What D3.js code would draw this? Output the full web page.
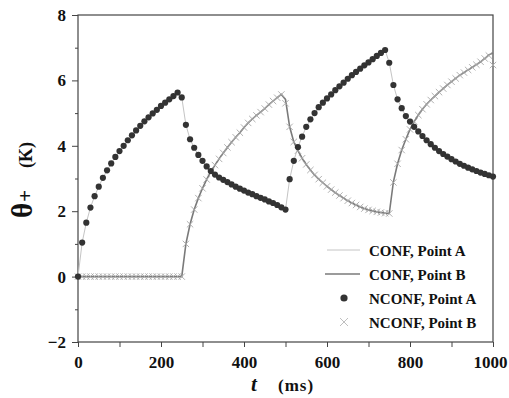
<!DOCTYPE html>
<html>
<head>
<meta charset="utf-8">
<script src="https://cdn.jsdelivr.net/npm/d3@7"></script>
<style>
  body { margin: 0; background: #fff; }
  svg text { font-family: "Liberation Serif", "Times New Roman", serif; font-weight: bold; fill: #111; }
</style>
</head>
<body>
<div id="chart"></div>
<script>
// sampling step of the simulation (ms)
const step = 10;
const times = d3.range(0, 1001, step);

// CONF / NCONF temperature rise at point A and point B (K), one value per 10 ms
const confA = [
  0, 1.04, 1.65, 2.11, 2.46, 2.75, 3.02, 3.25, 3.46, 3.66,
  3.84, 4.00, 4.17, 4.32, 4.47, 4.61, 4.75, 4.87, 4.99, 5.10,
  5.22, 5.32, 5.42, 5.52, 5.63,
  5.48, 4.64, 4.20, 3.94, 3.72, 3.54, 3.37, 3.23, 3.12, 3.03,
  2.96, 2.89, 2.82, 2.75, 2.69, 2.63, 2.57, 2.52, 2.46, 2.41,
  2.36, 2.30, 2.25, 2.19, 2.12,
  2.05, 2.98, 3.54, 3.96, 4.28, 4.58, 4.81, 5.00, 5.18, 5.32,
  5.45, 5.57, 5.70, 5.82, 5.93, 6.05, 6.16, 6.26, 6.36, 6.46,
  6.55, 6.65, 6.75, 6.84, 6.93,
  6.54, 5.86, 5.42, 5.15, 4.91, 4.74, 4.58, 4.44, 4.30, 4.17,
  4.05, 3.94, 3.84, 3.75, 3.67, 3.59, 3.52, 3.45, 3.39, 3.33,
  3.28, 3.23, 3.18, 3.14, 3.10, 3.06
];
const confB = [
  0, 0, 0, 0, 0, 0, 0, 0, 0, 0,
  0, 0, 0, 0, 0, 0, 0, 0, 0, 0,
  0, 0, 0, 0, 0, 0,
  1.00, 1.60, 2.05, 2.40, 2.70, 2.97, 3.20, 3.41, 3.60, 3.78,
  3.95, 4.11, 4.26, 4.40, 4.56, 4.70, 4.82, 4.93, 5.03, 5.14,
  5.26, 5.37, 5.47, 5.57,
  5.42, 4.58, 4.12, 3.85, 3.62, 3.43, 3.26, 3.11, 2.98, 2.87,
  2.76, 2.66, 2.57, 2.48, 2.40, 2.32, 2.25, 2.19, 2.13, 2.08,
  2.04, 2.01, 1.98, 1.96, 1.94, 1.93,
  2.90, 3.45, 3.87, 4.20, 4.50, 4.74, 4.94, 5.12, 5.27, 5.40,
  5.52, 5.64, 5.75, 5.86, 5.96, 6.06, 6.16, 6.24, 6.32, 6.40,
  6.48, 6.57, 6.67, 6.78, 6.84
];
const nconfA = [
  0, 1.04, 1.65, 2.11, 2.46, 2.75, 3.02, 3.25, 3.46, 3.66,
  3.84, 4.00, 4.17, 4.32, 4.47, 4.61, 4.75, 4.87, 4.99, 5.10,
  5.22, 5.32, 5.42, 5.52, 5.63,
  5.48, 4.64, 4.20, 3.94, 3.72, 3.54, 3.37, 3.23, 3.12, 3.03,
  2.96, 2.89, 2.82, 2.75, 2.69, 2.63, 2.57, 2.52, 2.46, 2.41,
  2.36, 2.30, 2.25, 2.19, 2.12,
  2.05, 2.98, 3.54, 3.96, 4.28, 4.58, 4.81, 5.00, 5.18, 5.32,
  5.45, 5.57, 5.70, 5.82, 5.93, 6.05, 6.16, 6.26, 6.36, 6.46,
  6.55, 6.65, 6.75, 6.84, 6.93,
  6.54, 5.86, 5.42, 5.15, 4.91, 4.74, 4.58, 4.44, 4.30, 4.17,
  4.05, 3.94, 3.84, 3.75, 3.67, 3.59, 3.52, 3.45, 3.39, 3.33,
  3.28, 3.23, 3.18, 3.14, 3.10, 3.06
];
const nconfB = [
  0, 0, 0, 0, 0, 0, 0, 0, 0, 0,
  0, 0, 0, 0, 0, 0, 0, 0, 0, 0,
  0, 0, 0, 0, 0, 0,
  1.00, 1.60, 2.05, 2.40, 2.70, 2.97, 3.20, 3.41, 3.60, 3.78,
  3.95, 4.11, 4.26, 4.40, 4.56, 4.70, 4.82, 4.93, 5.03, 5.14,
  5.26, 5.37, 5.47, 5.57,
  5.30, 4.58, 4.12, 3.85, 3.62, 3.43, 3.26, 3.11, 2.98, 2.87,
  2.76, 2.66, 2.57, 2.48, 2.40, 2.32, 2.25, 2.19, 2.13, 2.08,
  2.04, 2.01, 1.98, 1.96, 1.94, 1.93,
  2.88, 3.45, 3.87, 4.20, 4.50, 4.74, 4.94, 5.12, 5.27, 5.40,
  5.52, 5.64, 5.75, 5.86, 5.96, 6.06, 6.16, 6.24, 6.32, 6.40,
  6.48, 6.57, 6.67, 6.76, 6.47
];

const xTickLabels = [0, 200, 400, 600, 800, 1000];
const yTickLabels = [-2, 0, 2, 4, 6, 8];
const legendNames = ['CONF, Point A', 'CONF, Point B', 'NCONF, Point A', 'NCONF, Point B'];

const width = 509, height = 398;
const mLeft = 78, mRight = 493, mTop = 15, mBottom = 342;

const x = d3.scaleLinear().domain([0, 1000]).range([mLeft, mRight]);
const y = d3.scaleLinear().domain([-2, 8]).range([mBottom, mTop]);

const svg = d3.select('#chart')
  .append('svg')
  .attr('width', width)
  .attr('height', height);

// x axis: ticks every 100 ms, labels on even hundreds
const xAxis = svg.append('g')
  .attr('transform', `translate(0,${mBottom})`)
  .call(d3.axisBottom(x)
    .tickValues(d3.range(0, 1001, 100))
    .tickSize(5)
    .tickPadding(9)
    .tickFormat(d => xTickLabels.includes(d) ? d : ''));
xAxis.select('.domain').remove();
xAxis.selectAll('line').attr('stroke', '#444');
xAxis.selectAll('text')
  .style('font-size', '17px')
  .attr('fill', '#111')
  .attr('dx', d => d === 1000 ? -3 : 0);

// y axis: minor ticks on odd values, major with labels on even values
const yMinor = svg.append('g')
  .attr('transform', `translate(${mLeft},0)`)
  .call(d3.axisLeft(y).tickValues([-1, 1, 3, 5, 7]).tickSize(3).tickFormat(''));
yMinor.select('.domain').remove();
yMinor.selectAll('line').attr('stroke', '#444');

const yAxis = svg.append('g')
  .attr('transform', `translate(${mLeft},0)`)
  .call(d3.axisLeft(y).tickValues(yTickLabels).tickSize(6).tickPadding(6));
yAxis.select('.domain').remove();
yAxis.selectAll('line').attr('stroke', '#444');
yAxis.selectAll('text').style('font-size', '17px').attr('fill', '#111');

// frame
svg.append('rect')
  .attr('x', mLeft).attr('y', mTop)
  .attr('width', mRight - mLeft).attr('height', mBottom - mTop)
  .attr('fill', 'none')
  .attr('stroke', '#444')
  .attr('stroke-width', 1.2);

const line = d3.line()
  .x((d, i) => x(times[i]))
  .y(d => y(d));

// CONF point A: faint thin line
svg.append('path')
  .datum(confA)
  .attr('d', line)
  .attr('fill', 'none')
  .attr('stroke', '#c4c4c4')
  .attr('stroke-width', 1);

// CONF point B: grey solid line
svg.append('path')
  .datum(confB)
  .attr('d', line)
  .attr('fill', 'none')
  .attr('stroke', '#7a7a7a')
  .attr('stroke-width', 1.6);

// NCONF point B: light crosses
const xs = 3.2;
svg.append('g')
  .selectAll('path')
  .data(nconfB)
  .enter()
  .append('path')
  .attr('d', `M${-xs},${-xs}L${xs},${xs}M${-xs},${xs}L${xs},${-xs}`)
  .attr('transform', (d, i) => `translate(${x(times[i])},${y(d)})`)
  .attr('fill', 'none')
  .attr('stroke', '#a8a8a8')
  .attr('stroke-width', 0.9);

// NCONF point A: dark dots
svg.append('g')
  .selectAll('circle')
  .data(nconfA)
  .enter()
  .append('circle')
  .attr('cx', (d, i) => x(times[i]))
  .attr('cy', d => y(d))
  .attr('r', 3.1)
  .attr('fill', '#333');

// legend
const legend = svg.append('g');
const rowY = [250, 274, 298, 322];
legendNames.forEach((name, i) => {
  const g = legend.append('g').attr('transform', `translate(0,${rowY[i]})`);
  if (i === 0) {
    g.append('line').attr('x1', 327).attr('x2', 360).attr('y1', 0).attr('y2', 0)
      .attr('stroke', '#c4c4c4').attr('stroke-width', 1);
  } else if (i === 1) {
    g.append('line').attr('x1', 325).attr('x2', 360).attr('y1', 0).attr('y2', 0)
      .attr('stroke', '#7a7a7a').attr('stroke-width', 1.6);
  } else if (i === 2) {
    g.append('circle').attr('cx', 344).attr('cy', 0).attr('r', 3.6).attr('fill', '#333');
  } else {
    g.append('path')
      .attr('d', `M${344 - 4},-4L${344 + 4},4M${344 - 4},4L${344 + 4},-4`)
      .attr('stroke', '#b8b8b8').attr('stroke-width', 0.9).attr('fill', 'none');
  }
  g.append('text')
    .attr('x', 369)
    .attr('y', 6)
    .style('font-size', '15px')
    .text(name);
});

// axis titles
svg.append('text')
  .attr('x', 251)
  .attr('y', 391)
  .style('font-size', '21px')
  .style('font-style', 'italic')
  .text('t');
svg.append('text')
  .attr('x', 278)
  .attr('y', 391)
  .style('font-size', '17px')
  .style('letter-spacing', '1px')
  .text('(ms)');

const yTitle = svg.append('text')
  .attr('transform', 'translate(32,218) rotate(-90)')
  .attr('text-anchor', 'start');
yTitle.append('tspan').style('font-size', '29px').text('θ');
yTitle.append('tspan').style('font-size', '21px').attr('dx', 1).text('+');
yTitle.append('tspan').style('font-size', '18px').attr('dx', 22).text('(K)');
</script>
</body>
</html>
